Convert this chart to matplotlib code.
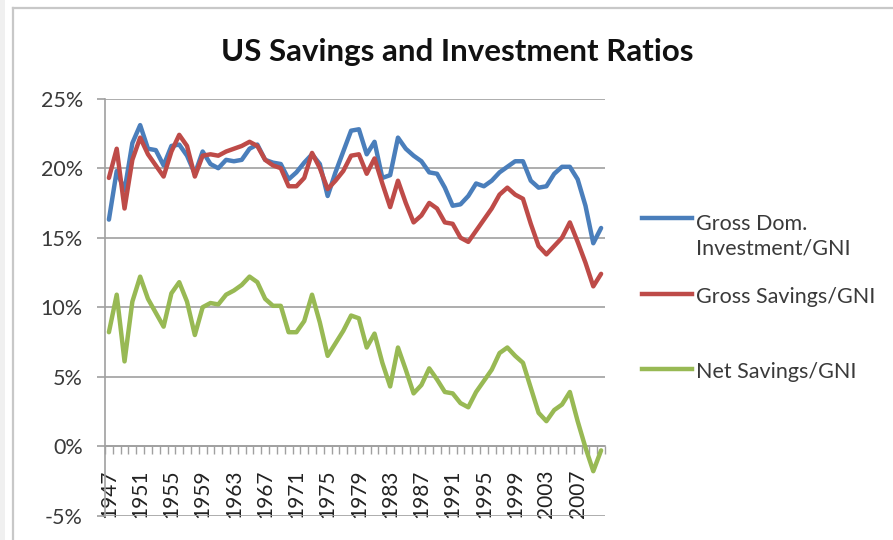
import matplotlib
matplotlib.use("Agg")
import matplotlib.pyplot as plt
from matplotlib.lines import Line2D
from matplotlib.patches import Rectangle
import numpy as np

years = list(range(1947, 2011))

gross_dom_investment = [
    16.3, 19.8, 18.4, 21.8, 23.1, 21.4, 21.3, 20.2, 21.6, 21.7,
    20.9, 19.6, 21.2, 20.3, 20.0, 20.6, 20.5, 20.6, 21.4, 21.7,
    20.6, 20.4, 20.3, 19.2, 19.7, 20.4, 21.0, 20.3, 18.0, 19.7,
    21.2, 22.7, 22.8, 21.0, 21.9, 19.3, 19.5, 22.2, 21.4, 20.9,
    20.5, 19.7, 19.6, 18.6, 17.3, 17.4, 18.0, 18.9, 18.7, 19.1,
    19.7, 20.1, 20.5, 20.5, 19.1, 18.6, 18.7, 19.6, 20.1, 20.1,
    19.2, 17.3, 14.6, 15.7,
]
gross_savings = [
    19.3, 21.4, 17.1, 20.6, 22.2, 21.0, 20.2, 19.4, 21.2, 22.4,
    21.6, 19.4, 20.9, 21.0, 20.9, 21.2, 21.4, 21.6, 21.9, 21.6,
    20.6, 20.2, 20.0, 18.7, 18.7, 19.3, 21.1, 20.0, 18.5, 19.1,
    19.8, 20.9, 21.0, 19.6, 20.7, 18.9, 17.2, 19.1, 17.5, 16.1,
    16.6, 17.5, 17.1, 16.1, 16.0, 15.0, 14.7, 15.5, 16.3, 17.1,
    18.1, 18.6, 18.1, 17.8, 16.0, 14.4, 13.8, 14.4, 15.0, 16.1,
    14.7, 13.2, 11.5, 12.4,
]
net_savings = [
    8.2, 10.9, 6.1, 10.4, 12.2, 10.6, 9.6, 8.6, 11.0, 11.8,
    10.4, 8.0, 10.0, 10.3, 10.2, 10.9, 11.2, 11.6, 12.2, 11.8,
    10.6, 10.1, 10.1, 8.2, 8.2, 9.0, 10.9, 8.9, 6.5, 7.4,
    8.3, 9.4, 9.2, 7.1, 8.1, 6.0, 4.3, 7.1, 5.5, 3.8,
    4.4, 5.6, 4.8, 3.9, 3.8, 3.1, 2.8, 3.9, 4.7, 5.5,
    6.7, 7.1, 6.5, 6.0, 4.2, 2.4, 1.8, 2.6, 3.0, 3.9,
    1.8, -0.1, -1.8, -0.3,
]
series_names = ["Gross Dom.\nInvestment/GNI", "Gross Savings/GNI", "Net Savings/GNI"]
series_colors = ["#4a7ebb", "#be4b48", "#98b954"]
y_ticks = [-5, 0, 5, 10, 15, 20, 25]
title = "US Savings and Investment Ratios"

FONT = "Lato"
TXT = "#3a3a3a"
GRID = "#a0a0a0"

W, H = 893, 540
fig = plt.figure(figsize=(W / 100, H / 100), dpi=100)

# outer chart frame / background strip
fig.add_artist(Rectangle((0, 0), 5 / W, 1, transform=fig.transFigure,
                         facecolor="#f0f0f0", edgecolor="none"))
fig.add_artist(Line2D([12.5 / W, 12.5 / W], [0, 1 - 8.3 / H], transform=fig.transFigure,
                      color="#c8c8c8", lw=1.6))
fig.add_artist(Line2D([12.5 / W, 1], [1 - 8.3 / H, 1 - 8.3 / H], transform=fig.transFigure,
                      color="#c8c8c8", lw=1.6))

ax = fig.add_axes([105 / W, (H - 515.7) / H, 500 / W, 417 / H])

x = np.arange(len(years))
data = [gross_dom_investment, gross_savings, net_savings]
for vals, c in zip(data, series_colors):
    ax.plot(x, vals, color=c, lw=3.2, solid_joinstyle="round", solid_capstyle="round", zorder=3)

ax.set_xlim(-0.5, len(years) - 0.5)
ax.set_ylim(-5, 25)
ax.set_yticks(y_ticks)
ax.set_yticklabels([f"{v}%" for v in y_ticks], fontfamily=FONT, fontsize=15.5, color=TXT)
ax.yaxis.grid(True, color=GRID, lw=1.2)
ax.set_axisbelow(True)

for s in ["top", "right"]:
    ax.spines[s].set_visible(False)
ax.spines["left"].set_color(GRID)
ax.spines["left"].set_linewidth(1.2)
ax.spines["bottom"].set_position(("data", 0))
ax.spines["bottom"].set_color(GRID)
ax.spines["bottom"].set_linewidth(1.2)

ax.tick_params(axis="y", direction="out", length=6, width=1.2, color=GRID, pad=10)

label_idx = list(range(0, len(years), 4))
ax.set_xticks(label_idx)
ax.set_xticklabels([str(years[i]) for i in label_idx], rotation=90,
                   fontfamily=FONT, fontsize=15, color="#222222")
ax.set_xticks(np.arange(-0.5, len(years)), minor=True)
ax.tick_params(axis="x", which="major", length=0, pad=17)
ax.tick_params(axis="x", which="minor", direction="out", length=5.5, width=1.0, color=GRID)

fig.text(457.5 / W, 1 - 52 / H, title, ha="center", va="center",
         fontfamily=FONT, fontweight="bold", fontsize=22.5, color="#111111")

# legend
leg_y = [218, 294, 369]
txt_y = [236, 297, 372]
for name, c, ly, ty in zip(series_names, series_colors, leg_y, txt_y):
    fig.add_artist(Line2D([642 / W, 692 / W], [1 - ly / H, 1 - ly / H],
                          transform=fig.transFigure, color=c, lw=3.2))
    fig.text(696 / W, 1 - ty / H, name, ha="left", va="center", fontfamily=FONT,
             fontsize=15.5, color=TXT, linespacing=1.3)

fig.savefig("out.png", dpi=100)
